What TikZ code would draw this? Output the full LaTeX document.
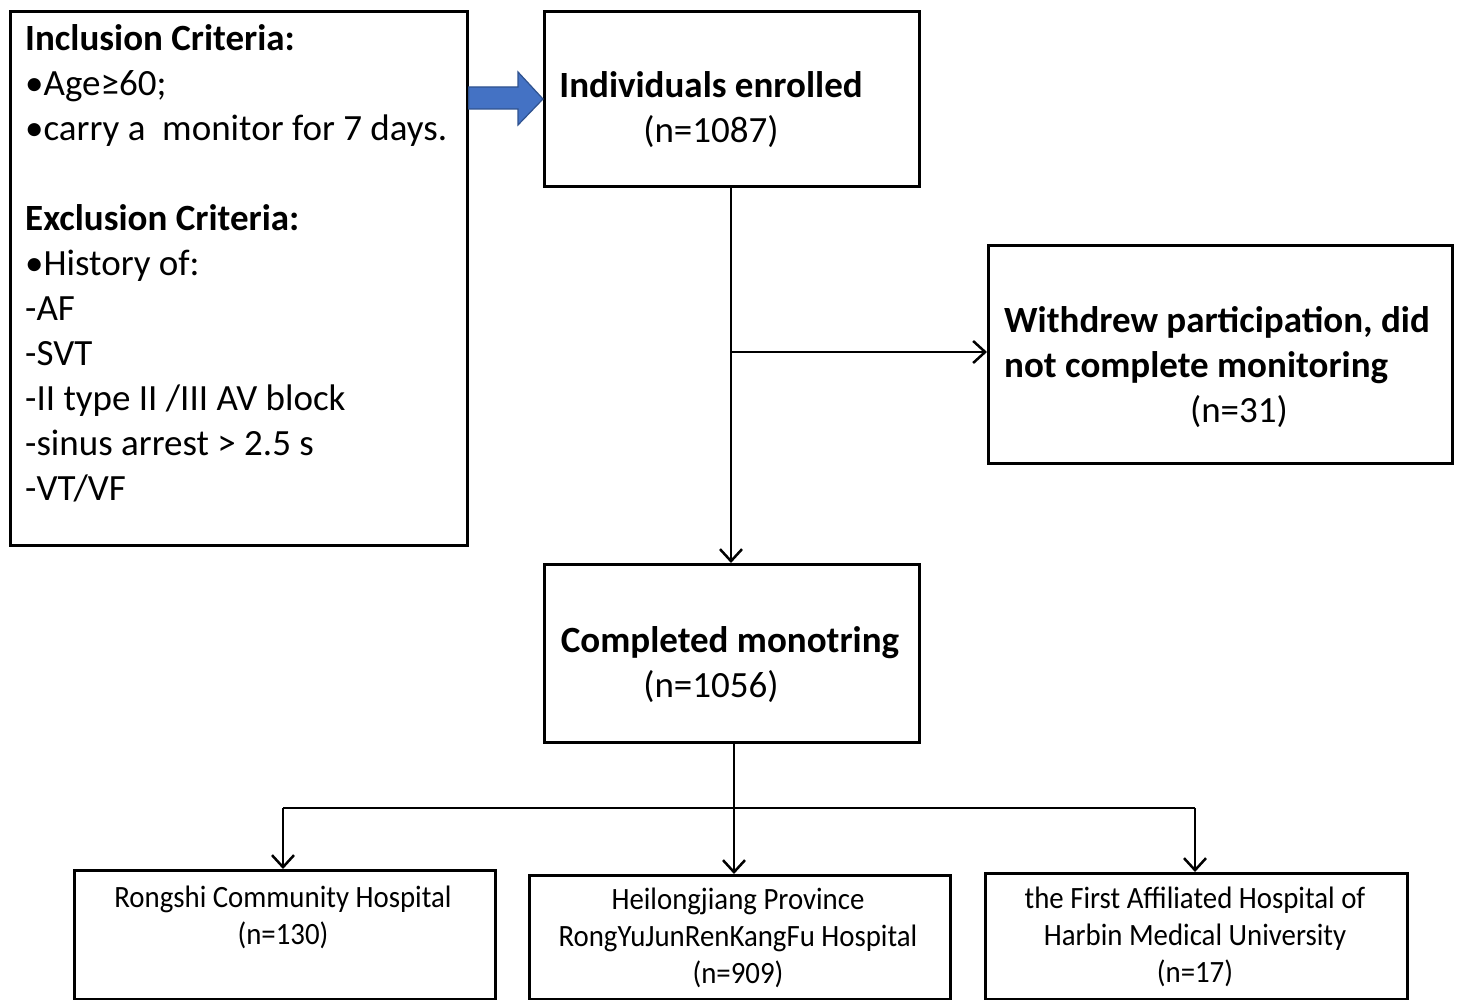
\documentclass[tikz,border=0pt]{standalone}
\usepackage{fontspec}
\setmainfont{Carlito}
\newfontfamily\narrowfont[FakeStretch=0.93]{Carlito}
\usetikzlibrary{arrows.meta}
\definecolor{blockfill}{HTML}{4472C4}
\definecolor{blockedge}{HTML}{2F528F}
\begin{document}
\begin{tikzpicture}[x=1pt,y=1pt,
  boxstyle/.style={draw=black,line width=2.8pt,inner sep=0pt},
  bigtext/.style={inner sep=0pt,font=\fontsize{37}{45}\selectfont},
  smalltext/.style={inner sep=0pt,align=center,font=\narrowfont\fontsize{31}{37}\selectfont},
  conn/.style={draw=black,line width=2.5pt},
  arr/.style={conn,-{Straight Barb[length=12pt,width=22pt,line width=2.5pt]}},
  blockarrow/.style={fill=blockfill,draw=blockedge,line width=1.2pt}]
\useasboundingbox (0,0) rectangle (1459,-1000);
\fill[white] (0,0) rectangle (1459,-1000);
% boxes
\node[boxstyle,anchor=north west,minimum width=457pt,minimum height=534pt] (criteria) at (9,-10) {};
\node[boxstyle,anchor=north west,minimum width=375pt,minimum height=175pt] (enrolled) at (543,-10) {};
\node[boxstyle,anchor=north west,minimum width=464pt,minimum height=218pt] (withdrew) at (987,-244) {};
\node[boxstyle,anchor=north west,minimum width=375pt,minimum height=178pt] (completed) at (543,-563) {};
\node[boxstyle,anchor=north west,minimum width=421pt,minimum height=129pt] (rongshi) at (73,-869) {};
\node[boxstyle,anchor=north west,minimum width=421pt,minimum height=124pt] (heilong) at (528,-874) {};
\node[boxstyle,anchor=north west,minimum width=422pt,minimum height=126pt] (harbin) at (984,-872) {};
% texts (base anchor = baseline of last line)
\node[bigtext,anchor=base west,align=left] (crittext) at (25,-500) {\textbf{Inclusion Criteria:}\\
•Age≥60;\\
•carry a\ \ monitor for 7 days.\\[45pt]
\textbf{Exclusion Criteria:}\\
•History of:\\
-AF\\
-SVT\\
-II type II /III AV block\\
-sinus arrest > 2.5 s\\
-VT/VF};
\node[bigtext,anchor=base] (enrolledtext) at (711,-98) {\textbf{Individuals enrolled}};
\node[bigtext,anchor=base] (enrolledn) at (711,-143) {(n=1087)};
\node[bigtext,anchor=base west,align=left] (withdrewtext) at (1004,-377) {\textbf{Withdrew participation, did}\\\textbf{not complete monitoring}};
\node[bigtext,anchor=base] (withdrewn) at (1239,-422) {(n=31)};
\node[bigtext,anchor=base] (completedtext) at (730,-652) {\textbf{Completed monotring}};
\node[bigtext,anchor=base] (completedn) at (711,-697) {(n=1056)};
\node[smalltext,anchor=base] (rongshitext) at (283,-944) {Rongshi Community Hospital\\(n=130)};
\node[smalltext,anchor=base] (heilongtext) at (738,-983) {Heilongjiang Province\\RongYuJunRenKangFu Hospital\\(n=909)};
\node[smalltext,anchor=base] (harbintext) at (1195,-982) {the First Affiliated Hospital of\\Harbin Medical University\\(n=17)};
% block arrow
\draw[blockarrow] (criteria.east |- 0,-87) -- (518,-87) -- (518,-72) -- (enrolled.west |- 0,-99) -- (518,-125) -- (518,-109) -- (criteria.east |- 0,-109) -- cycle;
% connectors
\coordinate (split) at (731,-352);
\draw[arr] (enrolled.south -| split) -- (completed.north -| split);
\draw[arr] (split) -- (withdrew.west |- split);
\coordinate (hub) at (734,-808);
\coordinate (hubleft) at (283,-808);
\coordinate (hubright) at (1195,-808);
\draw[arr] (completed.south -| hub) -- (heilong.north -| hub);
\draw[conn] (hubleft) -- (hubright);
\draw[arr] (hubleft) -- (rongshi.north -| hubleft);
\draw[arr] (hubright) -- (harbin.north -| hubright);
\end{tikzpicture}
\end{document}
